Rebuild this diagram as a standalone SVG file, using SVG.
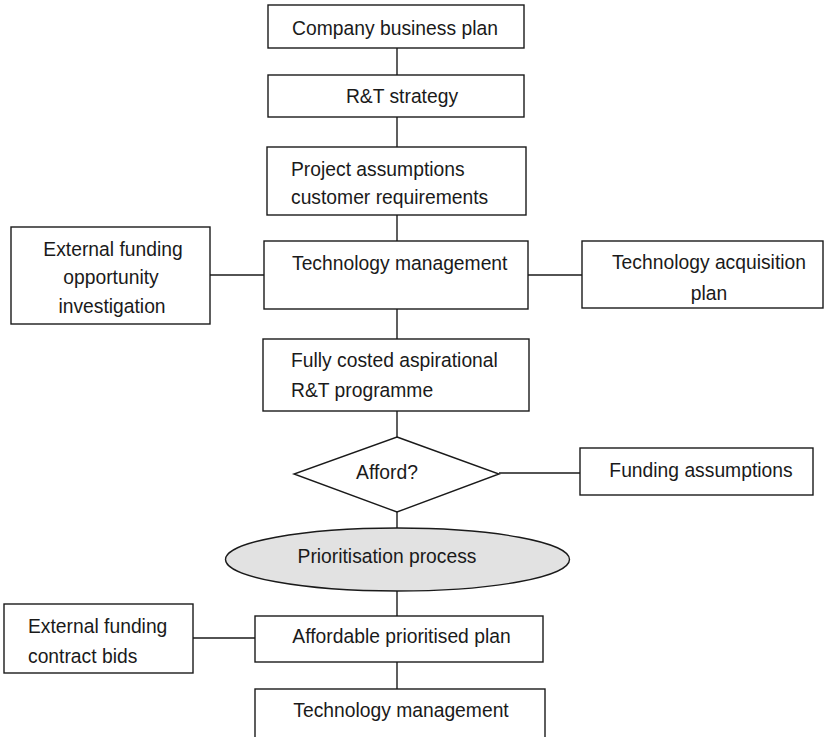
<svg xmlns="http://www.w3.org/2000/svg" width="824" height="737" viewBox="0 0 824 737">
<style>
.b{fill:#fff;stroke:#1a1a1a;stroke-width:1.4}
.c line{stroke:#1a1a1a;stroke-width:1.4}
text{font-family:"Liberation Sans",Arial,sans-serif;font-size:19.3px;fill:#1a1a1a}
.m{text-anchor:middle}
</style>
<rect width="824" height="737" fill="#fff"/>
<g class="c" id="connectors">
<line x1="397" y1="48" x2="397" y2="75"/>
<line x1="397" y1="117" x2="397" y2="147"/>
<line x1="397" y1="215" x2="397" y2="241"/>
<line x1="397" y1="309" x2="397" y2="339"/>
<line x1="397" y1="411" x2="397" y2="437"/>
<line x1="397" y1="512" x2="397" y2="528"/>
<line x1="397" y1="591" x2="397" y2="616"/>
<line x1="397" y1="662" x2="397" y2="689"/>
<line x1="210" y1="275" x2="264" y2="275"/>
<line x1="528" y1="275" x2="582" y2="275"/>
<line x1="499" y1="473" x2="580" y2="473"/>
<line x1="193" y1="638" x2="255" y2="638"/>
</g>
<g id="n1"><rect class="b" x="268" y="5" width="256" height="43"/><text class="m" x="395" y="35">Company business plan</text></g>
<g id="n2"><rect class="b" x="268" y="75" width="256" height="42"/><text class="m" x="402" y="103">R&amp;T strategy</text></g>
<g id="n3"><rect class="b" x="267" y="147" width="259" height="68"/><text x="291" y="176">Project assumptions</text><text x="291" y="204">customer requirements</text></g>
<g id="n4"><rect class="b" x="264" y="241" width="264" height="68"/><text x="292" y="270">Technology management</text></g>
<g id="n5"><rect class="b" x="11" y="227" width="199" height="97"/><text class="m" x="113" y="256">External funding</text><text class="m" x="111" y="284">opportunity</text><text class="m" x="112" y="313">investigation</text></g>
<g id="n6"><rect class="b" x="582" y="241" width="241" height="67"/><text class="m" x="709" y="269">Technology acquisition</text><text class="m" x="709" y="300">plan</text></g>
<g id="n7"><rect class="b" x="263" y="339" width="266" height="72"/><text x="291" y="367">Fully costed aspirational</text><text x="291" y="397">R&amp;T programme</text></g>
<g id="n8"><polygon class="b" points="397,437 499,474 397,512 294,474"/><text class="m" x="387" y="479">Afford?</text></g>
<g id="n9"><rect class="b" x="580" y="448" width="233" height="47"/><text class="m" x="701" y="477">Funding assumptions</text></g>
<g id="n10"><ellipse cx="397.5" cy="559.5" rx="172" ry="31.5" fill="#e2e2e2" stroke="#1a1a1a" stroke-width="1.4"/><text class="m" x="387" y="563">Prioritisation process</text></g>
<g id="n11"><rect class="b" x="255" y="616" width="288" height="46"/><text class="m" x="401.5" y="643">Affordable prioritised plan</text></g>
<g id="n12"><rect class="b" x="4" y="604" width="189" height="69"/><text x="28" y="633">External funding</text><text x="28" y="663">contract bids</text></g>
<g id="n13"><rect class="b" x="255" y="689" width="290" height="60"/><text class="m" x="401" y="717">Technology management</text></g>
</svg>
